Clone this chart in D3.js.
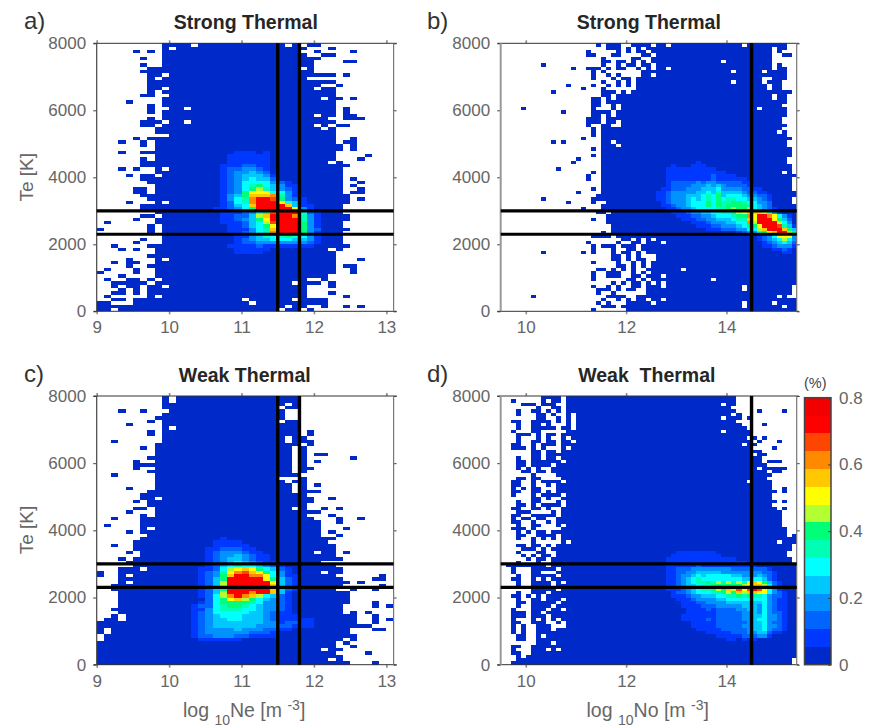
<!DOCTYPE html>
<html>
<head>
<meta charset="utf-8">
<script src="https://cdn.jsdelivr.net/npm/d3@7"></script>
<style>
  body { margin: 0; background: #fff; }
  text { font-family: "Liberation Sans", Arial, sans-serif; }
</style>
</head>
<body>
<script>
const WIDTH = 869;
const HEIGHT = 727;

// colour bar bands, bottom to top. cell chars are indexes into this (0-9, a-e), "." = no data
const BAND_COLORS = ["#0029c9", "#0038ff", "#0064ff", "#0092ff", "#00c8ff", "#00ffff", "#00ffb4", "#00ff78",
                     "#b4ff32", "#ffff00", "#ffc800", "#ff8a00", "#ff4600", "#ff0000", "#f20000"];
const BAR_TICKS = [0, 0.2, 0.4, 0.6, 0.8];
const TE_TICKS = [0, 2000, 4000, 6000, 8000];
const NE_TICKS = [9, 10, 11, 12, 13];
const NO_TICKS = [10, 12, 14];
const TE_LINES = [3000, 2300];
const NE_LINES = [11.5, 11.8];
const NO_LINES = [14.5];

// top row is 7900-8000 K, each row 100 K. each column 0.1 in log10, starting at 9.0
const STRONG_NE = [
".........0 000.000000 000000.0.0 0......... .",
".........0 .000000000 000000000. ..0....... .",
".....0.0.0 0000000000 00000000.. 0....0.... .",
".........0 0000000000 000000000. .00....... .",
"......0..0 0000000000 0000000000 0......... .",
".........0 0000000000 0000000000 ....00.... .",
"......0..0 0000000000 0000000000 .......... .",
".......000 0000000000 00000000.0 .......... .",
"......0000 0000000000 0000000000 .......... .",
".......00. 0000000000 0000000000 000.0..... .",
".......0.0 0000000000 000000000. .......... .",
".......000 0000000000 0000000000 000....... .",
".......000 0000000000 0000000000 0..0...... .",
".......00. 0000000000 0000000000 .00....... .",
".......0.0 0000000000 0000000000 000....... .",
"......00.. 0000000000 0000000000 000....... .",
".........0 0000000000 0000000000 0.00.0.... .",
"....0....0 0000000000 0000000000 000....... .",
".......0.0 0000000000 0000000000 000....... .",
".......0.. 00.0000000 0000000000 000.0..... .",
".......0.0 0000000000 0000000000 000.0..... .",
".........0 0000000000 0000000000 .00.00.... .",
".......0.0 0000000000 0000000000 00..000... .",
"......000. 00.0000000 0000000000 000....... .",
"......00.0 0000000000 0000000000 .0.00..... .",
"........00 0000000000 0000000000 0.0....... .",
"........00 0000000000 0000000000 000....... .",
".......... 0000000000 0000000000 000....... .",
".....0.000 0000000000 0000000000 000..0.... .",
"...0..0.00 0000000000 0000000000 000.00.... .",
"......0.00 0000000000 0000000000 0000.0.... .",
"........00 0000000000 0000000000 0000.0.... .",
"...0..0000 0000000001 1101000000 000....... .",
"........00 0000000011 1111000000 000....0.. .",
"......0.00 0000000011 1111000000 000...0... .",
"......0000 0000000011 1111000000 00.0...... .",
"......0000 0000000111 2211000000 00000..... .",
"...0.0..0. 0000000122 3321000000 0000...... .",
"........00 0000000123 3432000000 0000...... .",
"....0.00.0 0000000123 4443100000 0000...... .",
"......0000 0000000123 4544200000 0000.0.... .",
".......000 0000000123 5555321000 0000..0... .",
"........00 0000000123 5675431100 0000.0.... .",
".....00.00 0000000123 5786432100 0000..0... .",
".....00.00 0000000123 7999553100 0000.00... .",
"......0000 0000000134 7aaab63100 00000..... .",
".......000 0000000135 6bddc73210 00000.0... .",
"....0...0. 0000000125 6bddd95410 00000..... .",
"......0000 0000000124 5adddda411 0000...... .",
"......0000 0000001123 57ddddd931 0000...... .",
"........00 0000000111 2357cddd52 1000...... .",
"......00.0 0000000112 248adddb63 10000..... .",
".....0..00 0000000112 3479dddd63 10000..... .",
".0......00 0000000111 2458cddd73 1000...... .",
".......0.0 0000000011 24579ddd73 1000...... .",
"0......0.0 0000000011 1356addd73 20000..... .",
".......0.0 0000000011 2356bddd73 1000...... .",
".........0 0000000001 1346567653 1000...... .",
"......0..0 0000000001 2344555443 1000...... .",
".....0...0 0000000001 2233333332 1000...... .",
"..0....000 0000000011 1121111111 00000..... .",
"...0.0..00 0000000001 1111000000 00.0...... .",
"........00 0000000001 1110000000 000....... .",
".......000 0000000000 0000000000 000....... .",
"....0...0. 0000000000 0000000000 000...0... .",
"..0.00..00 0000000000 0000000000 000....... .",
"....0..000 0000000000 0000000000 000.00.... .",
".0...0..00 0000000000 0000000000 000..0.... .",
"0....0..00 0000000000 0000000000 000..0.... .",
"...0....00 0000000000 0000000000 00........ .",
".0..00.0.0 0000000000 000000000. .0........ .",
"..00000.00 0000000000 0000000.00 0.0....... .",
"..0.00.00. 0000000000 000000000. ..0....... .",
"...0.0.000 0000000000 000000000. .......... .",
"..00.0.000 0000000000 000000000. ..0....... .",
".0.....0.0 0000000000 000000000. ....0..... .",
"..00.00000 0000000000 .000000.00 00........ .",
"00...00000 0000000000 0.00000000 00........ .",
"0000000000 0000000000 000000.00. .0..0.0... .",
"00.0000000 0000000000 00000.00.0 .......... ."
];

// same rows, columns from 9.5
const STRONG_NO = [
"..... .......... ....0.000. .0000.00.0 0000000000 000.000000 00..",
"..... .......... ......000. 0.0.000000 0000000000 000000000. 00..",
"..... .......... ..0.....0. 0.00.00000 0000000000 000000000. 0...",
"..... .......... ..00...00. ...00.0000 0000000000 000000000. .00.",
"..... .......... .....0.... .00..00000 0000000000 000000000. ....",
"..... .......... .....00.00 .0.0.00000 000000000. 000000000. ....",
"..... ...0...... .....0..0. 00.00.0000 0000000000 000000000. 0...",
"..... .........0 ..000.0.00 ..0.0.00.0 0000000000 000000000. 00..",
"..... .......... ...0.0.... ...0000000 0000000000 0.00000.00 00..",
"..... .......... ...0..0.0. ...00.0000 0000000000 0000000000 00..",
"..... .......... ...0...0.0 0.00000000 0000000000 0000000..0 00..",
"..... .......... .....0..0. 0.00000000 0000000000 0.00000.00 0...",
"..... ........0. ...0..0.0. 0.00000000 0000000000 00000000.0 0...",
"..... .......... .0...0.... ..00000000 0000000000 00000000.0 0...",
"..... .....0.... .....000.0 .000000000 0000000000 0000000000 000.",
"..... .......... .....00.00 0000000000 0000000000 000000000. 00..",
"..... .......... ...00.0.00 0000000000 0000000000 000000000. 00..",
"..... .......... ...00.0000 0000000000 0000000000 0000000000 00..",
"..... .......... ...00..0.0 0000000000 0000000000 0000000000 0...",
"....0 .......... ...0...0.0 0000000000 0000000000 000000.000 00..",
"..... .......0.. ...0000.00 0000000000 0000000000 0000000000 00..",
"..... .......... ...00.0.00 0000000000 0000000000 0000000000 00..",
"..... .......... ..000.0000 0000000000 0000000000 0000000000 0...",
"..... .......... ..000.00.0 0000000000 0000000000 0000000000 0...",
"..... .......... ..0..00..0 0000000000 0000000000 0000000000 00..",
"..... .......... ...0.00000 0000000000 0000000000 0000000000 0...",
"..... .......... ...0.00000 0000000000 0000000000 0000000000 .0..",
"..... .......... ...0.00000 0000000000 0000000000 0000000000 00..",
"..... .......... .0...00000 0000000000 0000000000 0000000000 000.",
"..... .....0.0.. .....00.00 0000000000 0000000000 0000000000 00..",
"..... .......... .....000.0 0000000000 0000000000 0000000000 00..",
"..... .......... ...0.00000 0000000000 0000000000 0000000000 000.",
"..... .......... .....00000 0000000000 0000000000 0000000000 000.",
"..... .......... ...0.00000 0000000000 0000000000 0000000000 000.",
"..... .......... 0....00000 0000000000 0000000000 0000000000 00..",
"..... .........0 .....00000 0000000000 0000100000 0000000000 00..",
"..... .......... .....00000 0000000001 0001110000 0000000000 000.",
"..... ......0... .....00000 0000000011 1111111100 0000000000 000.",
"..... .......... ...0.00000 0000000011 1111111111 0000000000 0.0.",
"..... .......... ..0..00000 0000000011 1111111211 1100000000 0000",
"..... .......... ..0..00000 0000000011 1111111211 1111000000 000.",
"..... .......... .....00000 0000000012 2222323322 2221100000 000.",
"..... .......... .....00000 0000000012 2223334343 2222100000 000.",
"..... .......... ...0.00000 0000000112 2233344453 3332211000 000.",
"..... .......... 0....00000 0000001123 3333445464 4443221100 0000",
"..... .......... ....000000 0000001123 3344456574 5554332210 0000",
"..... ...0...... ...0000000 0000001123 3345456575 6655443210 000.",
"..... ........0. ...0..0000 0000000123 3345557576 6776553320 000.",
"..... .......... .....00000 0000000112 3345557576 7777654320 0000",
"..... .......... .0...00000 0000000011 2334555566 7877854321 0000",
"..... .......... ....00.000 0000000001 1123344556 6789aaa853 1000",
"..... .......... ......0000 0000000000 1112233455 5677b9ddb9 5310",
"..... .......... ...0..0000 0000000000 0111223344 4566a9ddd9 7420",
"..... .......... ......0000 0000000000 0001112333 4455b8dddd 8530",
"..... .......... .......000 0000000000 0000111223 3345779ddd c641",
"..... .......... .......000 0000000000 0000001112 2233558add da74",
"..... .......... .....0.000 0000000000 0000000000 001233579a dda7",
"..... .......... ...0000.00 0000000000 0000000000 0000001235 9993",
"..... .......... .........0 0.0.0.0000 0000000000 0000001234 5853",
"..... .......... ..0.....0. .00.000.00 0000000000 0000000123 4542",
"..... .......... ...0.000.0 00.0000000 0000000000 0000000112 3331",
"..... .......... ...0...0.. 00.0000000 0000000000 0000000001 1210",
"..... ...0...... .0.0...0.0 0.0.000000 0000000000 0000000000 0110",
"..... .......... .......00. 0.0...0000 0000000000 0000000000 0000",
"..... .......... .......00. 0.00..0000 0000000000 0000000000 0000",
"..... .......... ...0....0. .0.0.00000 0000000000 0000000000 0000",
"..... .......... ........00 .0.0.00000 0000000000 0000000000 0000",
"..... .......... ....00.0.0 .0..000000 0.00000000 0000000000 0000",
"..... .......... ...0..000. .0.0.00000 0000000000 0000000000 0000",
"..... .......... ...0..000. .00.000.00 0000000000 0000000000 0000",
"..... .......... ...0...... 00.0.00000 0000000.00 0000000000 0000",
"..... .......... .......0.0 .00.0.0.00 0000000000 0000000000 0000",
"..... .......... ...0..0.0. .00.000.00 0000000000 000.000000 000.",
"..... .......... ....000.0. 00..000000 0000000000 000.000000 000.",
"..... .......... ....0..0.. ....000000 0000000000 0000000000 000.",
"..... .0........ ......0000 ..00000000 0000000000 0000000000 .0..",
"..... .......... .....0..0. 0.00.00.00 0000000000 0000000000 0000",
"..... .......... ....0.0... 00000.0000 0000000000 000.00000. 0000",
"..... .......... .....000.0 0000000000 0000000000 000.000000 0.00",
"..... .......... ...0...... 0000000000 0000000000 0000000000 0000"
];

const WEAK_NE = [
".........0 .000000000 00000000.. .......... .",
".........0 .000000000 00000000.. .......... .",
".........0 0000000000 000000.0.. .......... .",
".........0 0000000000 00000.00.. .......... .",
"...0..0... 0000000000 000000.... .......... .",
".........0 0000000000 000000.... .......... .",
"........00 0000000000 000000.... .......... .",
".......0.0 0000000000 00000.00.. .......... .",
"....0....0 0000000000 00000000.. .......... .",
".........0 .000000000 00000000.. .......... .",
".......0.0 0000000000 00000000.0 .......... .",
".......0.0 0000000000 00000000.0 .......... .",
".........0 0000000000 000000.00. .......... .",
"..0......0 0000000000 000000.000 .......... .",
"........00 0000000000 00000000.0 .......... .",
"......0.00 0000000000 0000000.0. .......... .",
"........00 0000000000 0000000.0. .......... .",
"........00 0000000000 0000000.0. 00........ .",
".......000 0000000000 0000000.0. .....0.... .",
".....0..00 0000000000 0000000.0. 0......... .",
".....00000 0000000000 0000000.0. .......... .",
".....0..00 0000000000 0000000.00 .......... .",
".......000 0000000000 0000000.0. .......... .",
"..0.....00 0000000000 00000000.. .......... .",
"........00 0000000000 00000...0. .......... .",
"........00 0000000000 000000.00. .......... .",
"........00 0000000000 0000000.0. 0......... .",
"....0...00 0000000000 0000000.0. .......... .",
".......000 0000000000 0000000.00 0......... .",
"......0000 0000000000 000000000. .......... .",
"......00.0 0000000000 0000000000 ..0....... .",
".....0.000 0000000000 0000000000 .......... .",
".......000 0000000000 000000000. .......... .",
".....00.00 0000000000 0000000.0. .0.0...... .",
"....0...00 0000000000 0000000000 0......... .",
"......0.00 0000000000 000000000. ..0....... .",
"..0...0000 0000000000 0000000000 ...0..0... .",
"......0000 0000000000 0000000000 0..0...... .",
".0....0000 0000000000 0000000000 0......... .",
"......0.00 0000000000 0000000000 0...0..... .",
"....0.0000 0000000000 0000000000 0.0....... .",
".......000 0000000000 0000000000 0..0...... .",
"......0000 0000000100 0000000000 000....... .",
".....00000 0000001111 0000000000 00........ .",
"..0..00000 0000001111 1000000000 000....... .",
".....00000 0000011222 1100000000 000....... .",
"....0.0000 0000012333 2110000000 .00.0..... .",
"......0000 0000012334 3211000000 000....... .",
"...0.00000 0000012344 3211000000 0000...... .",
"....000000 0000012345 4321100000 0......... .",
".....00000 0000012456 5543210000 000....... .",
"...000.000 0000112589 a975421000 0000...... .",
"0..0000000 000012369b ca97531000 0.00...... .",
"0..0.00000 00001237ad dbb9531100 000......0 .",
"...0000000 00001247dd ddd9742100 0000....00 .",
"...0.00000 00001248dd dddd942100 00000.0... .",
"..00000000 00001248dd dddda42100 0000.....0 .",
"..00000000 00001247dd dddda42100 000..0..0. .",
"...0000000 00001248dd dbdda41000 00000..... .",
"...0000000 00001258bd ba85421000 00000..... .",
"...0000000 000002579a 8754321000 00000..... .",
"...0000000 0000125777 7653321000 00000...0. .",
"...0000000 0001225677 6543321000 0000....0. 0",
"..00000000 0001135666 5543321000 0000...... .",
"...0000000 0001235555 5443211000 0000.0.0.. .",
"..0.000000 0001234555 4443211100 000000..0. .",
".00.000000 0001234455 4443211111 000000..0. 0",
"0000000000 0001234444 4443312211 000000..0. .",
"0000000000 0001234444 4433322111 00000000.. .",
"0.00000000 0001233334 3332211000 00000...00 .",
"0.00000000 0001233333 3222100000 00000..... .",
".000000000 0001223332 2111100000 000000.... .",
".000000000 0000111111 0000000000 0000.0.... .",
"0000000000 0000000000 0000000000 000.0..... .",
"0000000000 0000000000 0000000000 000..0.... .",
"0000000000 0000000000 0000000000 0.00...... .",
"0000000000 0000000000 0000000000 000....0.. .",
"0000000000 0000000000 0000000000 0000...... .",
"0000000000 0000000000 0000000000 00.0...... .",
"0000000000 0000000000 0000000000 00000...0. ."
];

const WEAK_NO = [
"..... ...0000.00 0000000000 0000000000 0000000000 00........ ....",
"..0.. ...0.00.00 0000000000 0000000000 0000000000 00........ ....",
"....0 00.000..00 0000000000 0000000000 000000000. 00........ ....",
"..... ..0..00.00 0000000000 0000000000 0000000000 0......... ....",
"...0. .00.0.0.00 0000000000 0000000000 0000000000 00....0... .0..",
"...0. ..00.0..0. 0000000000 0000000000 0000000000 0.0....... ....",
"..... ..00..0.0. 0000000000 0000000000 000000000. 000.0..... ....",
"..00. .0000.0.0. 0000000000 0000000000 0000000000 00........ ....",
"...0. .00.0...0. 0000000000 0000000000 0000000000 000....0.. ....",
"...0. .00000.00. 0000000000 0000000000 0000000000 0000...... ....",
"..0.. .00.....00 0000000000 0000000000 000000000. 00000..... ....",
"...00 0.0.00.000 0000000000 0000000000 0000000000 00000..... ....",
"...0. ..0.0..0.0 0000000000 0000000000 0000000000 0000.0.0.. ....",
"...0. .00.00.00. 0000000000 0000000000 0000000000 00000.0... 0...",
"..00. .0.000.000 0000000000 0000000000 0000000000 000.00.... ....",
"..000 .0.0...0.0 0000000000 0000000000 0000000000 00000....0 ....",
"..... .00.00.000 0000000000 0000000000 0000000000 0000000... ....",
"..... .00.000000 0000000000 0000000000 0000000000 00000.00.. ....",
"...0. .00.00.000 0000000000 0000000000 0000000000 0000000... ....",
"...00 .000000.00 0000000000 0000000000 0000000000 0000000.00 0...",
"...00 .0000.0000 0000000000 0000000000 0000000000 00000000.. ....",
"...0. 0.0..00000 0000000000 0000000000 0000000000 000000.000 00..",
"....0 0.00.00000 0000000000 0000000000 0000000000 00000000.0 0...",
"..... .0....0000 0000000000 0000000000 0000000000 000000000. ....",
"...00 .00....000 0000000000 0000000000 0000000000 00000000.. ....",
"..00. .0.0000.00 0000000000 0000000000 0000000000 0000.0000. ....",
"..00. .0..0.0000 0000000000 0000000000 0000000000 000000000. ....",
"..0.0 .00...0000 0000000000 0000000000 0000000000 000000000. .0..",
"..00. .00.0.0000 0000000000 0000000000 0000000000 0000000000 .0..",
"..0.. .0.0000.00 0000000000 0000000000 0000000000 000000000. ....",
"..... .00.0..000 0000000000 0000000000 0000000000 000000000. ....",
"...0. .00...0.00 0000000000 0000000000 0000000000 0000000000 .0..",
"...00 .0.0000.00 0000000000 0000000000 0000000000 000000000. ....",
"..00. .00.0..000 0000000000 0000000000 0000000000 0000000000 .0..",
"...00 0....0.000 0000000000 0000000000 0000000000 0000000000 0...",
"..00. .00000.000 0000000000 0000000000 0000000000 0000000000 0...",
"..0.0 0.00..0000 0000000000 0000000000 0000000000 0000000000 0...",
"..00. .0..0.0000 0000000000 0000000000 0000000000 0000000000 0...",
"...0. .00...0.00 0000000000 0000000000 0000000000 0000000000 0...",
"..000 .0.....000 0000000000 0000000000 0000000000 0000000000 00..",
"...0. 0.00.00000 0000000000 0000000000 0000000000 0000000000 00..",
"...00 ..0000.000 0000000000 0000000000 0000000000 0000000000 00.0",
"...0. .0.0.0.000 0000000000 0000000000 0000000000 0000000000 0000",
"..... .0.....0.0 0000000000 0000000000 0000000000 0000000000 .000",
"...00 .00.0.0000 0000000000 0000000000 0000000000 0000000000 000.",
"....0 00.0.00000 0000000000 0000000000 0000000000 0000000000 000.",
"...0. ..00..0000 0000000000 0000000000 1111111100 0000000000 00..",
"....0 .0.00.0000 0000000000 0000000001 1111111110 0000000000 00..",
"..... 0.00.00000 0000000000 0000000011 1111111111 1100000000 000.",
"...0. ..0..00000 0000000000 0000000011 1111111111 1111000000 000.",
".0000 0000.00000 0000000000 0000000011 1111211111 1111110000 0000",
"..0.. .00000.000 0000000000 0000000011 2223333333 3222222210 0000",
"..0.. .00...0000 0000000000 0000000011 2233444443 3333333221 0000",
"...0. .00000.000 0000000000 0000000011 2334545555 5443334321 0000",
"..00. .0.0.00000 0000000000 0000000011 2345655555 5554455421 0000",
"...0. .0000.0.00 0000000000 0000000011 2345667686 86869a9742 1000",
"...0. .0000.0000 0000000000 0000000011 2344566777 77789aa852 1000",
"..... .00000.000 0000000000 0000000011 1234566787 a8c9cdc953 1000",
"...0. .000.00000 0000000000 0000000001 2234555667 87a8aa9953 2100",
"..00. 0.0.000000 0000000000 0000000001 1123344455 6676766532 2100",
"...0. .00.000.00 0000000000 0000000000 1112333344 5555555532 1100",
"...00 .00000.000 0000000000 0000000000 0111223333 4444444532 1100",
"...0. .0000.0000 0000000000 0000000000 0111122233 3334443532 1100",
"..0.. .000.00.00 0000000000 0000000000 0011112122 2233443532 1100",
"..000 .00.000000 0000000000 0000000000 0011111122 2223343532 2100",
"..000 .000.00000 0000000000 0000000000 0111111122 2223344533 2100",
"..0.. .0.0.0.000 0000000000 0000000000 0111112122 2223345533 2100",
"..00. .000..0.00 0000000000 0000000000 0001111122 2222344532 2100",
"..0.0 ..000...00 0000000000 0000000000 0001111122 2223344533 2100",
"..0.0 ..000.0000 0000000000 0000000000 0000111112 2222344532 2100",
"..0.0 ..00000000 0000000000 0000000000 0000001111 1222334421 1000",
"...00 ..0.000000 0000000000 0000000000 0000000011 1112223310 0000",
"...00 ..00000000 0000000000 0000000000 0000000000 1101010000 0000",
"..... ..000.0000 0000000000 0000000000 0000000000 0000000000 0000",
"..00. .000000000 0000000000 0000000000 0000000000 0000000000 0000",
"..0.. .000.0.000 0000000000 0000000000 0000000000 0000000000 0000",
"..00. .000000000 0000000000 0000000000 0000000000 0000000000 0000",
"...0. 0000000000 0000000000 0000000000 0000000000 0000000000 0000",
"...00 0000000000 0000000000 0000000000 0000000000 0000000000 000.",
"..000 0000000000 0000000000 0000000000 0000000000 0000000000 000."
];

const PANELS = [
  { letter: "a)", title: "Strong Thermal", rows: STRONG_NE, start: 9, end: 13.1, xTicks: NE_TICKS, vLines: NE_LINES,
    left: 96.7, right: 393.6, top: 43.3, bottom: 311.3, axisFrom: 93.5, axisTo: 396.7, letterX: 24, titleX: 245.8, yLabel: true },
  { letter: "b)", title: "Strong Thermal", rows: STRONG_NO, start: 9.5, end: 15.4, xTicks: NO_TICKS, vLines: NO_LINES,
    left: 500.7, right: 796.7, top: 43.3, bottom: 311.3, axisFrom: 497.3, axisTo: 798.7, letterX: 427, titleX: 648.8, yLabel: false },
  { letter: "c)", title: "Weak Thermal", rows: WEAK_NE, start: 9, end: 13.1, xTicks: NE_TICKS, vLines: NE_LINES,
    left: 96.7, right: 393.6, top: 396, bottom: 664.7, axisFrom: 93.5, axisTo: 396.7, letterX: 24, titleX: 244.8, yLabel: true, xName: "Ne" },
  { letter: "d)", title: "Weak  Thermal", rows: WEAK_NO, start: 9.5, end: 15.4, xTicks: NO_TICKS, vLines: NO_LINES,
    left: 500.7, right: 796.7, top: 396, bottom: 664.7, axisFrom: 497.3, axisTo: 798.7, letterX: 427, titleX: 646.8, yLabel: false, xName: "No" }
];

const svg = d3.select("body").append("svg").attr("width", WIDTH).attr("height", HEIGHT);

const bandScale = d3.scaleQuantize().domain([0, 0.8]).range(BAND_COLORS);
const bandStep = 0.8 / BAND_COLORS.length;

// "0"-"e" -> middle value of that colour band
const parseCells = (rows) => {
  const cells = [];
  rows.forEach((row, r) => {
    row.replace(/ /g, "").split("").forEach((ch, c) => {
      if (ch !== ".") {
        cells.push({ r: r, c: c, value: (parseInt(ch, 16) + 0.5) * bandStep });
      }
    });
  });
  return cells;
};

const styleAxis = (tickColor, tickWidth) => (g) => {
  g.select(".domain").remove();
  g.selectAll("line").attr("stroke", tickColor).attr("stroke-width", tickWidth);
  g.selectAll("text").attr("fill", "#666").attr("font-size", 17).attr("font-family", "Liberation Sans");
};

const drawPanel = (p) => {
  const x = d3.scaleLinear().domain([p.start, p.end]).range([p.left, p.right]);
  const y = d3.scaleLinear().domain([0, 8000]).range([p.bottom, p.top]);
  const nCols = Math.round((p.end - p.start) * 10);
  const g = svg.append("g");

  g.selectAll("rect")
   .data(parseCells(p.rows).filter(d => d.c < nCols && d.r < 80))
   .enter()
   .append("rect")
   .attr("x", d => x(p.start + d.c * 0.1))
   .attr("y", d => y(8000 - d.r * 100))
   .attr("width", d => x(p.start + (d.c + 1) * 0.1) - x(p.start + d.c * 0.1))
   .attr("height", d => y(8000 - (d.r + 1) * 100) - y(8000 - d.r * 100))
   .attr("shape-rendering", "crispEdges")
   .attr("fill", d => bandScale(d.value));

  // axes
  g.append("g").attr("transform", "translate(0," + p.bottom + ")")
   .call(d3.axisBottom(x).tickValues(p.xTicks).tickFormat(d3.format("d")).tickSize(3).tickPadding(7)).call(styleAxis("#8a8a8a", 1.6));
  g.append("g").attr("transform", "translate(0," + p.top + ")")
   .call(d3.axisTop(x).tickValues(p.xTicks).tickFormat("").tickSize(3)).call(styleAxis("#8a8a8a", 1.6));
  g.append("g").attr("transform", "translate(" + p.left + ",0)")
   .call(d3.axisLeft(y).tickValues(TE_TICKS).tickFormat(d3.format("d")).tickSize(3.5).tickPadding(7)).call(styleAxis("#444", 1));
  g.append("g").attr("transform", "translate(" + p.right + ",0)")
   .call(d3.axisRight(y).tickValues(TE_TICKS).tickFormat("").tickSize(3)).call(styleAxis("#444", 1));

  // box
  [p.top, p.bottom].forEach(v => {
    g.append("line").attr("x1", p.axisFrom).attr("x2", p.axisTo).attr("y1", v).attr("y2", v)
     .attr("stroke", "#333").attr("stroke-width", 1);
  });
  [p.left, p.right].forEach((v, i) => {
    const grey = i === 0 && p.start > 9;
    g.append("line").attr("x1", v).attr("x2", v).attr("y1", p.top).attr("y2", p.bottom)
     .attr("stroke", grey ? "#999" : (i === 0 ? "#444" : "#777")).attr("stroke-width", grey ? 2 : 1.2);
  });

  // threshold lines
  TE_LINES.forEach(v => {
    g.append("line").attr("x1", p.left).attr("x2", p.right).attr("y1", y(v)).attr("y2", y(v))
     .attr("stroke", "#000").attr("stroke-width", 3.2);
  });
  p.vLines.forEach(v => {
    g.append("line").attr("x1", x(v)).attr("x2", x(v)).attr("y1", p.top).attr("y2", p.bottom)
     .attr("stroke", "#000").attr("stroke-width", 3.4);
  });

  // text
  g.append("text").attr("x", p.letterX).attr("y", p.top - 14.5).attr("font-size", 24).attr("fill", "#333").text(p.letter);
  g.append("text").attr("x", p.titleX).attr("y", p.top - 14.5).attr("text-anchor", "middle").attr("font-size", 19.5)
   .attr("font-weight", "bold").attr("fill", "#262626").style("white-space", "pre").text(p.title);

  if (p.yLabel) {
    g.append("text").attr("transform", "translate(33," + (p.top + 134) + ") rotate(-90)")
     .attr("text-anchor", "middle").attr("font-size", 19).attr("fill", "#666").text("Te [K]");
  }
  if (p.xName) {
    const label = g.append("text").attr("x", (p.left + p.right) / 2 - 1).attr("y", 717)
                   .attr("text-anchor", "middle").attr("font-size", 19.5).attr("fill", "#666");
    label.append("tspan").text("log ");
    label.append("tspan").attr("font-size", 14).attr("dy", 8).text("10");
    label.append("tspan").attr("dy", -8).text(p.xName + " [m ");
    label.append("tspan").attr("font-size", 14).attr("dy", -7).text("-3");
    label.append("tspan").attr("dy", 7).text("]");
  }
};

const drawColorbar = () => {
  const barLeft = 804.5;
  const barRight = 831;
  const y = d3.scaleLinear().domain([0, 0.8]).range([664.7, 397.7]);
  const g = svg.append("g");

  g.selectAll("rect")
   .data(BAND_COLORS)
   .enter()
   .append("rect")
   .attr("x", barLeft)
   .attr("y", (d, i) => y((i + 1) * bandStep))
   .attr("width", barRight - barLeft)
   .attr("height", (d, i) => y(i * bandStep) - y((i + 1) * bandStep))
   .attr("shape-rendering", "crispEdges")
   .attr("fill", d => d);

  g.append("rect").attr("x", barLeft).attr("y", y(0.8)).attr("width", barRight - barLeft).attr("height", y(0) - y(0.8))
   .attr("fill", "none").attr("stroke", "#444").attr("stroke-width", 1.5);

  const axis = g.append("g").attr("transform", "translate(" + barRight + ",0)")
                .call(d3.axisRight(y).tickValues(BAR_TICKS).tickFormat(d => d === 0 ? "0" : d3.format(".1f")(d)).tickSize(-3).tickPadding(8));
  axis.select(".domain").remove();
  axis.selectAll("line").attr("stroke", "#444");
  axis.selectAll("text").attr("fill", "#666").attr("font-size", 17).attr("font-family", "Liberation Sans");

  g.append("text").attr("x", 804).attr("y", 388).attr("font-size", 14.5).attr("fill", "#444").text("(%)");
};

PANELS.forEach(drawPanel);
drawColorbar();
</script>
</body>
</html>
